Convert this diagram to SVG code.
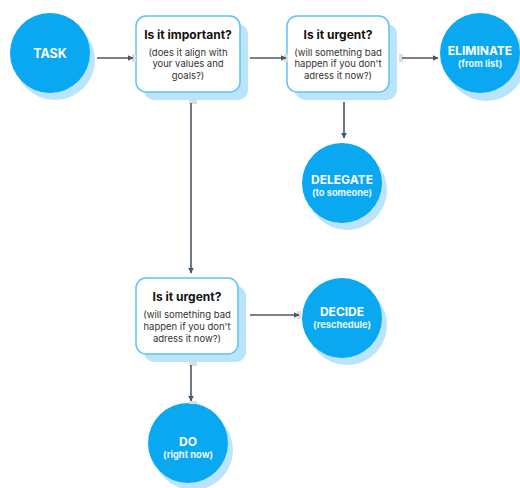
<svg xmlns="http://www.w3.org/2000/svg" width="520" height="488" viewBox="0 0 520 488">
<defs>
<style>
.cs{fill:#b9e4fb}
.c{fill:#0aa8f1}
.bs{fill:#b9e4fb}
.b{fill:#fff;stroke:#5ec4f6;stroke-width:1.5}
.ct{font-family:Inter,"Liberation Sans",sans-serif;font-weight:700;fill:#fff;text-anchor:middle}
.t1{font-size:12px}
.t2{font-size:9.3px;fill:#e6f6ff}
.bt{font-family:Inter,"Liberation Sans",sans-serif;text-anchor:middle;fill:#111}
.h{font-size:12px;font-weight:700}
.s{font-size:9.5px;fill:#333}
.ln{stroke:#4a5763;stroke-width:1.6;fill:none}
.an{fill:#dedede}
</style>
<marker id="ah" viewBox="0 0 10 10" refX="9" refY="5" markerWidth="6" markerHeight="6" orient="auto" markerUnits="userSpaceOnUse">
<path d="M0,0 L10,5 L0,10 z" fill="#4a5763"/>
</marker>
</defs>
<rect width="520" height="488" fill="#fff"/>

<g id="task">
<circle class="cs" cx="55" cy="60" r="40"/>
<circle class="c" cx="50" cy="53" r="40"/>
<text class="ct" x="50" y="58" font-size="12.5">TASK</text>
</g>

<g id="important">
<rect class="bs" x="144" y="24" width="104" height="76" rx="10"/>
<rect class="b" x="136" y="16" width="104" height="76" rx="10"/>
<text class="bt h" x="188" y="39">Is it important?</text>
<text class="bt s" x="188" y="56">(does it align with</text>
<text class="bt s" x="188" y="67">your values and</text>
<text class="bt s" x="188" y="79">goals?)</text>
</g>

<g id="urgent1">
<rect class="bs" x="295" y="24" width="102" height="76" rx="10"/>
<rect class="b" x="287" y="16" width="102" height="76" rx="10"/>
<text class="bt h" x="338" y="39">Is it urgent?</text>
<text class="bt s" x="338" y="56">(will something bad</text>
<text class="bt s" x="338" y="67">happen if you don't</text>
<text class="bt s" x="338" y="79">adress it now?)</text>
</g>

<g id="eliminate">
<circle class="cs" cx="486" cy="61" r="40"/>
<circle class="c" cx="480" cy="53" r="40"/>
<text class="ct t1" x="480" y="55">ELIMINATE</text>
<text class="ct t2" x="480" y="67">(from list)</text>
</g>

<g id="delegate">
<circle class="cs" cx="347" cy="190" r="40"/>
<circle class="c" cx="342" cy="183" r="40"/>
<text class="ct t1" x="342" y="184">DELEGATE</text>
<text class="ct t2" x="342" y="196">(to someone)</text>
</g>

<g id="urgent2">
<rect class="bs" x="144" y="286" width="102" height="76" rx="10"/>
<rect class="b" x="136" y="278" width="102" height="76" rx="10"/>
<text class="bt h" x="187" y="301">Is it urgent?</text>
<text class="bt s" x="187" y="318">(will something bad</text>
<text class="bt s" x="187" y="330">happen if you don't</text>
<text class="bt s" x="187" y="342">adress it now?)</text>
</g>

<g id="decide">
<circle class="cs" cx="347" cy="325" r="40"/>
<circle class="c" cx="342" cy="318" r="40"/>
<text class="ct t1" x="342" y="316">DECIDE</text>
<text class="ct t2" x="342" y="328">(reschedule)</text>
</g>

<g id="do">
<circle class="cs" cx="193" cy="450" r="40"/>
<circle class="c" cx="188" cy="443" r="40"/>
<text class="ct t1" x="188" y="446">DO</text>
<text class="ct t2" x="188" y="458">(right now)</text>
</g>

<g id="connectors">
<rect class="an" x="132" y="54" width="4" height="8"/>
<line class="ln" x1="97" y1="58" x2="133" y2="58" marker-end="url(#ah)"/>
<rect class="an" x="284" y="54" width="4" height="8"/>
<line class="ln" x1="250" y1="58" x2="286" y2="58" marker-end="url(#ah)"/>
<rect class="an" x="399" y="54" width="4" height="8"/>
<line class="ln" x1="402" y1="58" x2="438" y2="58" marker-end="url(#ah)"/>
<line class="ln" x1="344" y1="102" x2="344" y2="138" marker-end="url(#ah)"/>
<rect class="an" x="189" y="100" width="8" height="4"/>
<line class="ln" x1="191" y1="103" x2="191" y2="273" marker-end="url(#ah)"/>
<rect class="an" x="297" y="311" width="4" height="8"/>
<line class="ln" x1="250" y1="315" x2="299" y2="315" marker-end="url(#ah)"/>
<rect class="an" x="189" y="362" width="8" height="4"/>
<line class="ln" x1="191" y1="365" x2="191" y2="401" marker-end="url(#ah)"/>
<rect class="an" x="189" y="401" width="8" height="3"/>
</g>
</svg>
